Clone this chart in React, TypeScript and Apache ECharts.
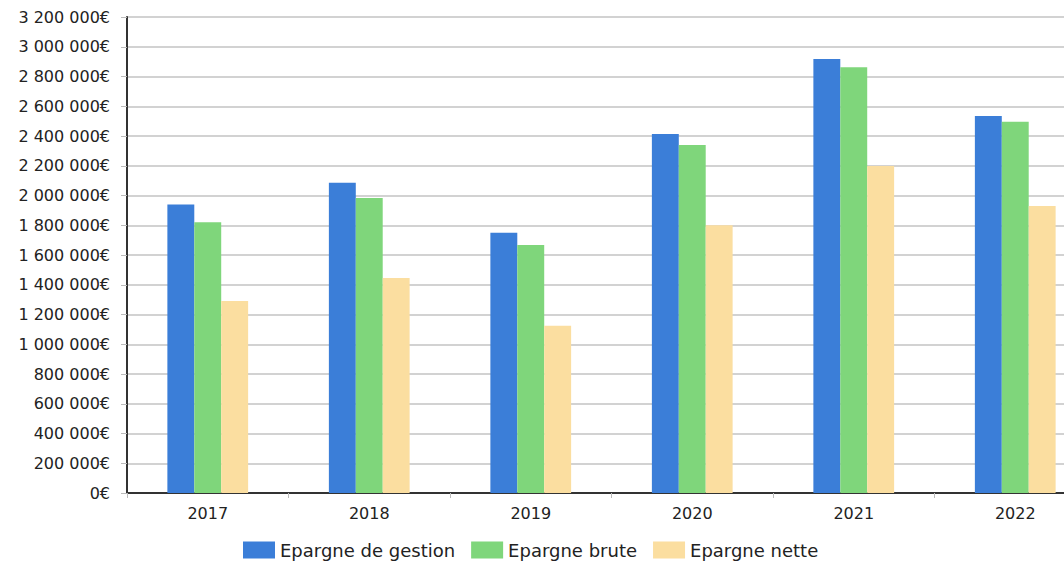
import React, { useEffect, useRef } from "react";
import * as echarts from "echarts";

const categories = ["2017", "2018", "2019", "2020", "2021", "2022"];
const epargneGestion = [1940000, 2085000, 1750000, 2413000, 2917000, 2535000];
const epargneBrute = [1820000, 1983000, 1667000, 2340000, 2863000, 2495000];
const epargneNette = [1290000, 1445000, 1125000, 1800000, 2198000, 1930000];
const seriesNames = ["Epargne de gestion", "Epargne brute", "Epargne nette"];
const colors = ["#3b7ed8", "#7fd67b", "#fbdea0"];

const fmt = (v: number) =>
  String(Math.round(v)).replace(/\B(?=(\d{3})+(?!\d))/g, " ") + "€";

export default function App() {
  const ref = useRef<HTMLDivElement>(null);
  useEffect(() => {
    if (!ref.current) return;
    const chart = echarts.init(ref.current, undefined, { renderer: "svg" });
    const font = "DejaVu Sans";
    const datasets = [epargneGestion, epargneBrute, epargneNette];
    chart.setOption({
      animation: false,
      backgroundColor: "#ffffff",
      textStyle: { fontFamily: font },
      grid: { left: 127, top: 17, bottom: 70, right: 0, containLabel: false },
      legend: {
        top: 541,
        left: 243,
        padding: 0,
        itemWidth: 32,
        itemHeight: 17,
        itemGap: 16,
        icon: "rect",
        textStyle: { fontFamily: font, fontSize: 18, color: "#222" },
        data: seriesNames,
      },
      xAxis: {
        type: "category",
        data: categories,
        axisLine: { lineStyle: { color: "#333", width: 2 } },
        axisTick: { show: true, length: 5, lineStyle: { color: "#bbb" } },
        axisLabel: { fontFamily: font, fontSize: 16, color: "#222", margin: 12 },
      },
      yAxis: {
        type: "value",
        min: 0,
        max: 3200000,
        interval: 200000,
        axisLine: { show: true, lineStyle: { color: "#333", width: 2 } },
        axisTick: { show: true, length: 6, lineStyle: { color: "#bbb" } },
        axisLabel: {
          fontFamily: font,
          fontSize: 16,
          color: "#222",
          margin: 17,
          formatter: (v: number) => fmt(v),
        },
        splitLine: { show: true, lineStyle: { color: "#d2d2d2", width: 2 } },
      },
      series: datasets.map((d, i) => ({
        name: seriesNames[i],
        type: "bar",
        data: d,
        barGap: "0%",
        barCategoryGap: "50%",
        itemStyle: { color: colors[i] },
      })),
    });
    return () => chart.dispose();
  }, []);
  return (
    <div
      style={{
        position: "fixed",
        left: 0,
        top: 0,
        width: 1064,
        height: 563,
        overflow: "hidden",
      }}
    >
      <div ref={ref} style={{ width: 1096, height: 563 }} />
    </div>
  );
}
